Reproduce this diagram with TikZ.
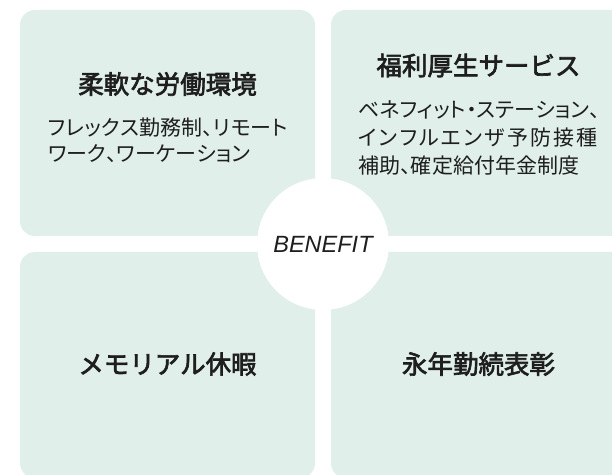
\documentclass[tikz,border=0pt]{standalone}
\usepackage{fontspec}
\setmainfont{Noto Sans CJK JP}
\newfontfamily\jppalt[RawFeature=+palt]{Noto Sans CJK JP}
\newfontfamily\jptitle[FakeBold=2.6]{Noto Sans CJK JP}
\newfontfamily\latinfont{Liberation Sans}
\definecolor{cardbg}{HTML}{E0EFEA}
\definecolor{ink}{HTML}{1E1E1E}
\makeatletter
\newcommand\spreadline[2]{\makebox[#1][s]{\def\sp@sep{}\@tfor\sp@x:=#2\do{\sp@sep\sp@x\def\sp@sep{\hfil}}}}
\makeatother
\begin{document}
\begin{tikzpicture}[x=1pt,y=1pt,
  card/.style={fill=cardbg, rounded corners=15pt, draw=none, minimum width=295pt, minimum height=226pt, inner sep=0, outer sep=0},
  titletext/.style={font=\jptitle\fontsize{25.5}{30}\selectfont, text=ink, inner sep=0},
  subtext/.style={font=\jppalt\fontsize{21}{27}\selectfont, text=ink, align=left, inner sep=0},
  hub/.style={circle, fill=white, minimum size=132pt, inner sep=0, text=ink,
    font=\latinfont\itshape\fontsize{23.5}{28}\selectfont}]
\useasboundingbox (0,0) rectangle (612,474);
\clip (0,0) rectangle (612,474);
\fill[white] (0,0) rectangle (612,474);
\node[card] (tl) at (167.5,351) {};
\node[card] (tr) at (478.5,351) {};
\node[card] (bl) at (167.5,109) {};
\node[card] (br) at (478.5,109) {};
\node[hub] (hub) at (323,230) {BENEFIT};
\node[titletext] (tlt) at (167.5,390) {柔軟な労働環境};
\node[subtext, font=\jppalt\fontsize{21}{26.5}\selectfont] (tls) at (168,333.6)
  {\spreadline{240pt}{フレックス勤務制、リモート}\\\spreadline{202pt}{ワーク、ワーケーション}};
\node[titletext] (trt) at (478.5,408.5) {福利厚生サービス};
\node[subtext, font=\jppalt\fontsize{21}{28}\selectfont] (trs) at (479,336.5)
  {\spreadline{242pt}{ベネフィット・ステーション、}\\\spreadline{240pt}{インフルエンザ予防接種}\\\spreadline{222pt}{補助、確定給付年金制度}};
\node[titletext] (blt) at (167.5,110) {メモリアル休暇};
\node[titletext] (brt) at (478.5,110) {永年勤続表彰};
\end{tikzpicture}
\end{document}
